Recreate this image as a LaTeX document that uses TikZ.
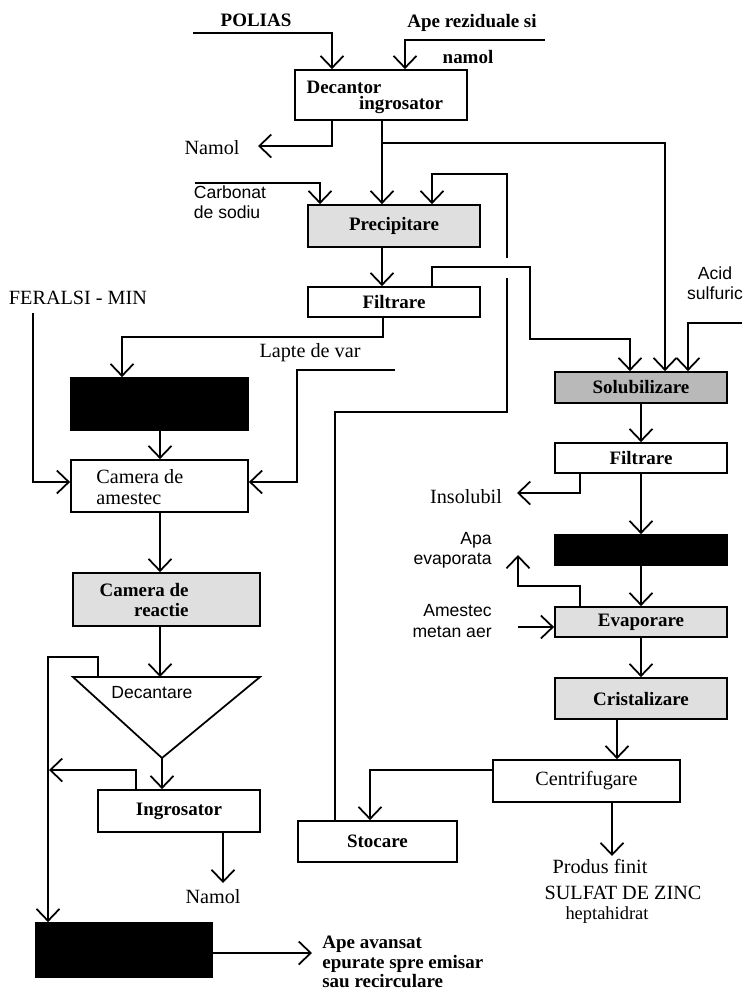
\documentclass[tikz,border=0pt]{standalone}
\usepackage{fontspec}
\setmainfont{Liberation Serif}
\setsansfont{Liberation Sans}
\usetikzlibrary{arrows.meta}

\tikzset{
  box/.style={draw, line width=1pt, inner sep=0pt},
  dims/.style 2 args={minimum width=#1*0.02cm, minimum height=#2*0.02cm},
  greybox/.style={box, fill=gray!25},
  darkbox/.style={box, fill=gray!55},
  blackbox/.style={box, fill=black},
  pipe/.style={line width=1pt},
  flow/.style={pipe, -{Straight Barb[length=2.4mm, width=4.6mm]}},
  txt/.style={font=\fontsize{11.5}{11.5}\selectfont, inner sep=0pt},
  btxt/.style={font=\fontsize{10.8}{11}\selectfont\bfseries, inner sep=0pt},
  stxt/.style={font=\fontsize{10}{11.5}\selectfont\sffamily, inner sep=0pt},
}

\begin{document}
\begin{tikzpicture}[x=0.02cm, y=-0.02cm]

  \fill[white] (0,0) rectangle (746,995);
  \useasboundingbox (0,0) rectangle (746,995);

  % linia de precipitare
  \node[box, dims={172}{50}] (dec) at (381,95) {};
  \node[btxt] (decA) at (344,87) {Decantor};
  \node[btxt] (decB) at (401,105) {ingrosator};
  \node[greybox, dims={172}{42}, btxt] (prec) at (394,226) {Precipitare};
  \node[box, dims={172}{30}, btxt] (filt1) at (394,302) {Filtrare};

  % epurarea apelor
  \node[blackbox, dims={177}{52}] (var) at (159.5,404) {};
  \node[box, dims={177}{52}] (amest) at (159.5,486) {};
  \node[txt, align=left, anchor=west] (amestT) at (96,487) {Camera de\\amestec};
  \node[greybox, dims={187}{53}] (react) at (166.5,599.5) {};
  \node[btxt, align=right, anchor=east] (reactT) at (189,600) {Camera de\\reactie};
  \coordinate (decanL) at (73,677);
  \coordinate (decanR) at (260,677);
  \coordinate (decanV) at (162,758);
  \draw[pipe, fill=white] (decanL) -- (decanR) -- (decanV) -- cycle;
  \node[stxt] (decanT) at (152,693) {Decantare};
  \node[box, dims={162}{42}, btxt] (ingr) at (179,811) {Ingrosator};
  \node[blackbox, dims={176}{54}] (epur) at (124,950) {};
  \node[box, dims={159}{41}, btxt] (stoc) at (377.5,841.5) {Stocare};

  % obtinerea sulfatului
  \node[darkbox, dims={172}{31}, btxt] (solub) at (641,387.5) {Solubilizare};
  \node[box, dims={172}{30}, btxt] (filt2) at (641,458) {Filtrare};
  \node[blackbox, dims={172}{30}] (conc) at (641,550) {};
  \node[greybox, dims={172}{30}, btxt] (evap) at (641,622) {Evaporare};
  \node[greybox, dims={172}{41}, btxt] (crist) at (641,698.5) {Cristalizare};
  \node[box, dims={187}{42}, txt] (centr) at (586.5,781) {Centrifugare};

  % etichete
  \node[btxt] (polias) at (256,20) {POLIAS};
  \node[btxt] (apeA) at (472,23) {Ape reziduale si};
  \node[btxt] (apeB) at (468,57) {namol};
  \node[txt] (namol1) at (212,148) {Namol};
  \node[stxt, align=left] (carb) at (230,202) {Carbonat\\de sodiu};
  \node[stxt, align=center] (acid) at (715,283) {Acid\\sulfuric};
  \node[txt] (feralsi) at (78,298) {FERALSI - MIN};
  \node[txt] (lapte) at (310,353) {Lapte de var};
  \node[txt] (insol) at (466,497) {Insolubil};
  \node[stxt, align=right, anchor=east] (apaev) at (492,550) {Apa\\evaporata};
  \node[stxt, align=right, anchor=east] (metan) at (492,621) {Amestec\\metan aer};
  \node[txt] (namol2) at (213,897) {Namol};
  \node[btxt, align=left, anchor=west] (efl) at (322,962) {Ape avansat\\epurate spre emisar\\sau recirculare};
  \node[txt] (prod) at (600,866) {Produs finit};
  \node[txt] (sulf) at (623,893) {SULFAT DE ZINC};
  \node[txt, font=\fontsize{10.5}{11}\selectfont] (hepta) at (607,915) {heptahidrat};

  % capete libere
  \coordinate (poliasIn) at (193,33);
  \coordinate (apeIn) at (545,40);
  \coordinate (namolOut) at (258,146);
  \coordinate (carbIn) at (195,183);
  \coordinate (acidIn) at (742,323);
  \coordinate (feralsiIn) at (33,313);
  \coordinate (lapteIn) at (395,370);
  \coordinate (insolOut) at (517,493);
  \coordinate (apaOut) at (518,555);
  \coordinate (metanIn) at (518,627);
  \coordinate (namolOut2) at (223,883);
  \coordinate (eflOut) at (312,953);
  \coordinate (prodOut) at (612,856);

  % fluxuri
  \draw[flow] (poliasIn) -| (332,0 |- dec.north);
  \draw[flow] (apeIn) -| (405,0 |- dec.north);
  \draw[flow] (332,0 |- dec.south) |- (namolOut);
  \draw[flow] (382,0 |- dec.south) -- (382,0 |- prec.north);
  \draw[flow] (382,143) -| (665,0 |- solub.north);
  \draw[flow] (carbIn) -| (320,0 |- prec.north);
  \draw[pipe] (335,0 |- stoc.north) |- (507,412) -- (507,278);
  \draw[flow] (507,258) |- (432,174) -- (432,0 |- prec.north);
  \draw[flow] (382,0 |- prec.south) -- (382,0 |- filt1.north);
  \draw[flow] (432,0 |- filt1.north) -- (432,267) -| (530,339) -| (630,0 |- solub.north);
  \draw[flow] (acidIn) -| (688,0 |- solub.north);
  \draw[flow] (383,0 |- filt1.south) |- (122,337) -- (122,0 |- var.north);
  \draw[flow] (lapteIn) -| (297,482) -- (amest.east |- 0,482);
  \draw[flow] (feralsiIn) |- (amest.west |- 0,482);
  \draw[flow] (160,0 |- var.south) -- (160,0 |- amest.north);
  \draw[flow] (160,0 |- amest.south) -- (160,0 |- react.north);
  \draw[flow] (160,0 |- react.south) -- (160,0 |- decanL);
  \draw[flow] (98,0 |- decanL) |- (48,657) -- (48,0 |- epur.north);
  \draw[flow] (decanV) -- (162,0 |- ingr.north);
  \draw[flow] (136,0 |- ingr.north) |- (49,770);
  \draw[flow] (223,0 |- ingr.south) -- (namolOut2);
  \draw[flow] (epur.east |- 0,953) -- (eflOut);

  \draw[flow] (solub.south) -- (filt2.north);
  \draw[flow] (580,0 |- filt2.south) |- (insolOut);
  \draw[flow] (filt2.south) -- (conc.north);
  \draw[flow] (conc.south) -- (evap.north);
  \draw[flow] (580,0 |- evap.north) |- (518,586) -- (apaOut);
  \draw[flow] (metanIn) -- (evap.west |- metanIn);
  \draw[flow] (evap.south) -- (crist.north);
  \draw[flow] (617,0 |- crist.south) -- (617,0 |- centr.north);
  \draw[flow] (612,0 |- centr.south) -- (prodOut);
  \draw[flow] (centr.west |- 0,770) -| (370,0 |- stoc.north);

\end{tikzpicture}
\end{document}
